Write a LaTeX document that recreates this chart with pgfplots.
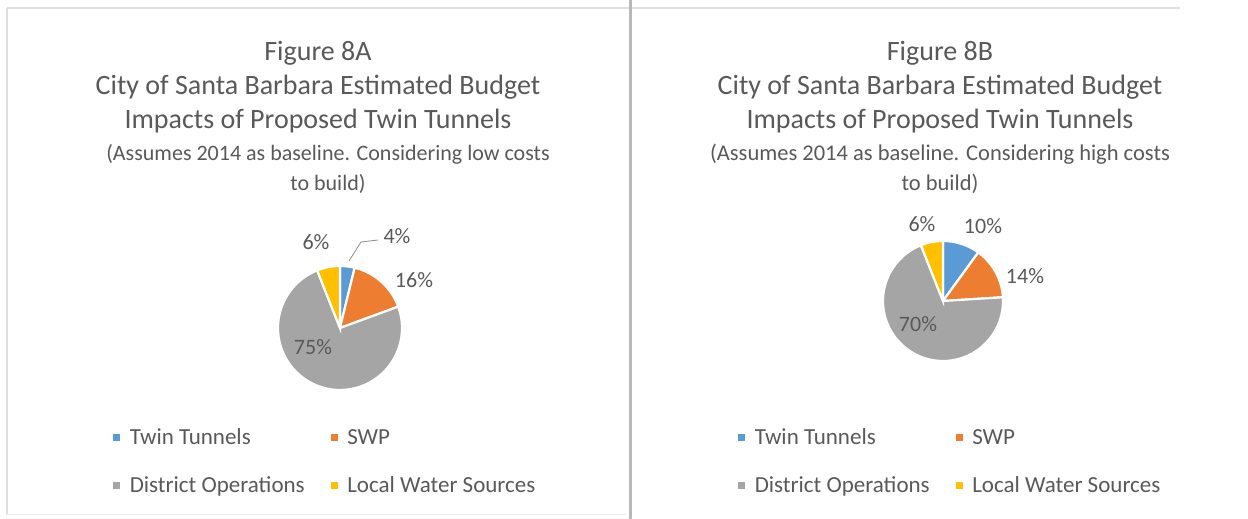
\documentclass[border=0pt]{standalone}
\usepackage{pgfplots}
\usepackage{pgfplotstable}
\usepackage{fontspec}
\setmainfont{Carlito}
\pgfplotsset{compat=1.18}
\definecolor{cblue}{HTML}{5B9BD5}
\definecolor{corange}{HTML}{ED7D31}
\definecolor{cgray}{HTML}{A5A5A5}
\definecolor{cyellow}{HTML}{FFC000}
\definecolor{ctext}{HTML}{595959}

% Figure 8A (low costs to build), percent of budget
\pgfplotstableread{
name pct
TwinTunnels 3.8
SWP 15.6
DistrictOperations 74.6
LocalWaterSources 6.0
}\tabA
% Figure 8B (high costs to build)
\pgfplotstableread{
name pct
TwinTunnels 10.0
SWP 14.0
DistrictOperations 70.0
LocalWaterSources 6.0
}\tabB

% slice boundary angles (start at 12 o'clock, clockwise)
\pgfplotstablegetelem{0}{pct}\of\tabA \pgfmathsetmacro\Aa{90-3.6*\pgfplotsretval}
\pgfplotstablegetelem{1}{pct}\of\tabA \pgfmathsetmacro\Ab{\Aa-3.6*\pgfplotsretval}
\pgfplotstablegetelem{2}{pct}\of\tabA \pgfmathsetmacro\Ac{\Ab-3.6*\pgfplotsretval}
\pgfplotstablegetelem{0}{pct}\of\tabB \pgfmathsetmacro\Ba{90-3.6*\pgfplotsretval}
\pgfplotstablegetelem{1}{pct}\of\tabB \pgfmathsetmacro\Bb{\Ba-3.6*\pgfplotsretval}
\pgfplotstablegetelem{2}{pct}\of\tabB \pgfmathsetmacro\Bc{\Bb-3.6*\pgfplotsretval}

\pgfplotsset{
  panel/.style={
    x=1pt, y=1pt, scale only axis, hide axis, clip=false,
    ymin=0, ymax=519, anchor=south west,
    legend columns=2,
    legend cell align=left,
    legend style={draw=none, fill=none, font=\fontsize{23}{27}\selectfont\color{ctext},
      row sep=26pt, inner sep=0pt,
      /tikz/every even column/.append style={column sep=24pt}},
    legend image code/.code={\fill[##1,draw=none] (0pt,-3.5pt) rectangle (7pt,3.5pt); \path (13.5pt,0pt);},
  },
  slice/.style={draw=white, line width=2.2pt, samples=60},
}

\begin{document}
\begin{tikzpicture}
\useasboundingbox (0,0) rectangle (1248pt,519pt);
% panel frames
\draw[color=black!12, line width=1.5pt] (7pt,511pt) -- (1180pt,511pt);
\draw[color=black!12, line width=1.5pt] (7pt,511pt) -- (7pt,4pt);
\draw[color=black!7, line width=1pt] (7pt,4pt) -- (626pt,4pt);
\draw[color=black!28, line width=3pt] (630pt,0pt) -- (630pt,519pt);

% ---------------- Figure 8A ----------------
\begin{axis}[panel, at={(0pt,0pt)}, xmin=0, xmax=624,
  legend style={at={(axis cs:113,57.5)}, anchor=west}]
\addplot[slice, fill=cblue, domain=\Aa:90] ({340+62*cos(x)},{191+62*sin(x)}) -- (axis cs:340,191) -- cycle;
\addplot[slice, fill=corange, domain=\Ab:\Aa] ({340+62*cos(x)},{191+62*sin(x)}) -- (axis cs:340,191) -- cycle;
\addplot[slice, fill=cgray, domain=\Ac:\Ab] ({340+62*cos(x)},{191+62*sin(x)}) -- (axis cs:340,191) -- cycle;
\addplot[slice, fill=cyellow, domain=-270:\Ac] ({340+62*cos(x)},{191+62*sin(x)}) -- (axis cs:340,191) -- cycle;
\legend{Twin Tunnels, SWP, District Operations, Local Water Sources}
\draw[color=black!45, line width=0.8pt] (axis cs:349,258) -- (axis cs:361,277) -- (axis cs:378,279);
\begin{scope}[every node/.style={text=ctext, font=\fontsize{22}{26}\selectfont}]
\node at (axis cs:316,277) {6\%};
\node at (axis cs:397,283) {4\%};
\node at (axis cs:414,239) {16\%};
\node at (axis cs:313,172) {75\%};
\end{scope}
\node[text=ctext, font=\fontsize{28}{34}\selectfont, align=center] at (axis cs:318,432) {Figure 8A\\City of Santa Barbara Estimated Budget\\Impacts of Proposed Twin Tunnels};
\node[text=ctext, font=\fontsize{22}{30}\selectfont, align=center] at (axis cs:328,350) {(Assumes 2014 as baseline. Considering low costs\\to build)};
\end{axis}

% ---------------- Figure 8B ----------------
\begin{axis}[panel, at={(632pt,0pt)}, xmin=632, xmax=1248,
  legend style={at={(axis cs:738,57.5)}, anchor=west}]
\addplot[slice, fill=cblue, domain=\Ba:90] ({943+60*cos(x)},{218+60*sin(x)}) -- (axis cs:943,218) -- cycle;
\addplot[slice, fill=corange, domain=\Bb:\Ba] ({943+60*cos(x)},{218+60*sin(x)}) -- (axis cs:943,218) -- cycle;
\addplot[slice, fill=cgray, domain=\Bc:\Bb] ({943+60*cos(x)},{218+60*sin(x)}) -- (axis cs:943,218) -- cycle;
\addplot[slice, fill=cyellow, domain=-270:\Bc] ({943+60*cos(x)},{218+60*sin(x)}) -- (axis cs:943,218) -- cycle;
\legend{Twin Tunnels, SWP, District Operations, Local Water Sources}
\begin{scope}[every node/.style={text=ctext, font=\fontsize{22}{26}\selectfont}]
\node at (axis cs:922,295) {6\%};
\node at (axis cs:983,293) {10\%};
\node at (axis cs:1025,243) {14\%};
\node at (axis cs:918,195) {70\%};
\end{scope}
\node[text=ctext, font=\fontsize{28}{34}\selectfont, align=center] at (axis cs:940,432) {Figure 8B\\City of Santa Barbara Estimated Budget\\Impacts of Proposed Twin Tunnels};
\node[text=ctext, font=\fontsize{22.5}{30}\selectfont, align=center] at (axis cs:940,350) {(Assumes 2014 as baseline. Considering high costs\\to build)};
\end{axis}
\end{tikzpicture}
\end{document}
